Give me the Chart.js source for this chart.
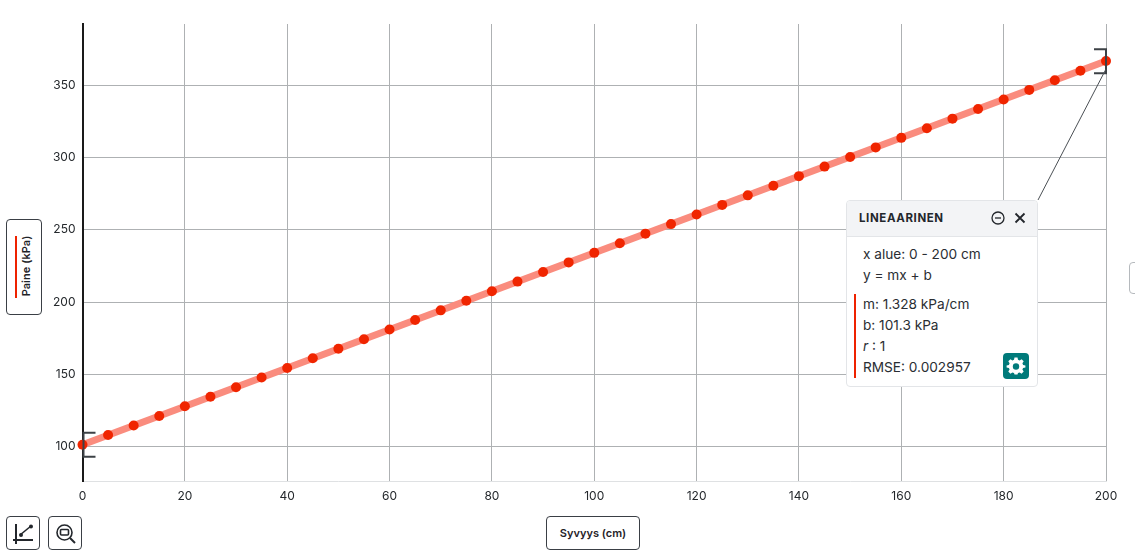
<!DOCTYPE html>
<html><head><meta charset="utf-8">
<script src="https://cdn.jsdelivr.net/npm/chart.js@4"></script>
<style>
html,body{margin:0;padding:0;background:#fff;width:1135px;height:558px;overflow:hidden;font-family:Inter,sans-serif;color:#1f2328}
#wrap{position:relative;width:1135px;height:558px}
canvas{position:absolute;left:0;top:0}
.btn{position:absolute;box-sizing:border-box;border:1px solid #3a3f45;border-radius:4px;background:#fff}
.label{font-weight:600;font-size:11px;color:#1f2328;display:flex;align-items:center;justify-content:center}
#ylab span{transform:rotate(-90deg);white-space:nowrap;position:absolute;left:-12px;top:39px;width:62px;text-align:center;letter-spacing:.05px}
#ybar{position:absolute;left:8px;top:16px;width:2px;height:62px;background:#ee2200}
#panel{position:absolute;left:846px;top:200px;width:192px;height:187px;box-sizing:border-box;border:1px solid #e3e5e8;border-radius:4px;background:#fff;font-size:13.65px;color:#2a2e33}
#head{position:absolute;left:0;top:0;right:0;height:35px;background:#f3f4f6;border-bottom:1px solid #e3e5e8;border-radius:4px 4px 0 0}
#head b{position:absolute;left:12px;top:10px;font-size:11.5px;font-weight:700;letter-spacing:.6px;color:#23272c}
.row{position:absolute;left:16px;white-space:nowrap;line-height:21px}
#bar{position:absolute;left:7px;top:93px;width:2px;height:84px;background:#ee2200}
#gear{position:absolute;left:156px;top:152px;width:26px;height:26px;border-radius:4px;background:#007a7a}
svg{position:absolute;overflow:visible}
</style></head><body><div id="wrap">
<canvas id="c" width="1135" height="558"></canvas>
<div id="ylab" class="btn label" style="left:6px;top:219px;width:36px;height:96px"><div id="ybar"></div><span>Paine (kPa)</span></div>
<div class="btn label" style="left:546px;top:516px;width:94px;height:34px">Syvyys (cm)</div>
<div class="btn" style="left:6px;top:516px;width:34px;height:34px">
<svg width="32" height="32" viewBox="0 0 32 32" fill="none" stroke="#23272c" stroke-width="2"><path d="M9 7V27M6 23H26"/><path d="M13 18L24 9" stroke-width="1.6"/><circle cx="14" cy="18" r="2" fill="#23272c" stroke="none"/><circle cx="24" cy="9.500" r="2" fill="#23272c" stroke="none"/></svg></div>
<div class="btn" style="left:48px;top:516px;width:34px;height:34px">
<svg width="32" height="32" viewBox="0 0 32 32" fill="none" stroke="#23272c" stroke-width="1.600"><circle cx="15.500" cy="15.500" r="7.500"/><rect x="11.500" y="12.500" width="8" height="5.500" rx="1"/><path d="M21 21L26 26" stroke-width="2"/></svg></div>
<div class="btn" style="left:1129px;top:262px;width:20px;height:32px;border-color:#b5b9bd"></div>
<div id="panel">
<div id="head"><b>LINEAARINEN</b>
<svg style="left:144px;top:10px" width="14" height="14" viewBox="0 0 14 14" fill="none" stroke="#23272c" stroke-width="1.300"><circle cx="7" cy="7" r="6"/><path d="M4 7H10"/></svg>
<svg style="left:167px;top:11px" width="12" height="12" viewBox="0 0 12 12" fill="none" stroke="#23272c" stroke-width="1.800"><path d="M1.500 1.500L10.500 10.500M10.500 1.500L1.500 10.500"/></svg>
</div>
<div class="row" style="top:43px">x alue: 0 - 200 cm</div>
<div class="row" style="top:64px">y = mx + b</div>
<div id="bar"></div>
<div class="row" style="top:93px">m: 1.328 kPa/cm</div>
<div class="row" style="top:114px">b: 101.3 kPa</div>
<div class="row" style="top:135px"><i>r</i> : 1</div>
<div class="row" style="top:156px">RMSE: 0.002957</div>
<div id="gear"><svg width="26" height="26" viewBox="0 0 26 26"><g fill="#fff"><path d="M11.500 5H14.500L15 7.300L16.600 8L18.600 6.700L20.700 8.800L19.400 10.800L20.100 12.400L22.400 12.900V15L20.100 15.500L19.400 17.100L20.700 19.100L18.600 21.200L16.600 19.900L15 20.600L14.500 22H11.500L11 20.600L9.400 19.900L7.400 21.200L5.300 19.100L6.600 17.100L5.900 15.500L3.600 15V12.900L5.900 12.400L6.600 10.800L5.300 8.800L7.400 6.700L9.400 8L11 7.300Z" transform="translate(0,-0.500)"/></g><circle cx="13" cy="13.500" r="3.200" fill="#007a7a"/></svg></div>
</div>
</div>
<script>
const depthCm = [0,5,10,15,20,25,30,35,40,45,50,55,60,65,70,75,80,85,90,95,100,105,110,115,120,125,130,135,140,145,150,155,160,165,170,175,180,185,190,195,200];
const pressureKPa = [101.3,108,114.6,121.2,127.9,134.5,141.1,147.8,154.4,161.1,167.7,174.3,181,187.6,194.3,200.9,207.5,214.2,220.8,227.5,234.1,240.7,247.4,254,260.6,267.3,273.9,280.6,287.2,293.8,300.5,307.1,313.7,320.4,327,333.7,340.3,346.9,353.6,360.2,366.9];
const fitX = [0,200];
const fitY = [101.3,366.9];
const xRange = [0,200];
const yRange = [76.2,392.5];
const measured = depthCm.map((x,i)=>({x,y:pressureKPa[i]}));
const fitLine = fitX.map((x,i)=>({x,y:fitY[i]}));

const overlay = {
  id:'overlay',
  afterDatasetsDraw(chart){
    const {ctx,scales:{x,y}} = chart;
    const bracket=(px,py,dir)=>{
      ctx.beginPath();
      ctx.moveTo(px+dir*12,py-12);ctx.lineTo(px,py-12);ctx.lineTo(px,py+12);ctx.lineTo(px+dir*12,py+12);
      ctx.stroke();
    };
    ctx.save();
    ctx.strokeStyle='#3c4146';ctx.lineWidth=2;
    bracket(x.getPixelForValue(fitX[0])+1,y.getPixelForValue(fitY[0]),1);
    bracket(x.getPixelForValue(fitX[1]),y.getPixelForValue(fitY[1]-0.200),-1);
    const ex=x.getPixelForValue(fitX[1]),ey=y.getPixelForValue(fitY[1]);
    ctx.strokeStyle='#4a4f54';ctx.lineWidth=1;
    ctx.beginPath();ctx.moveTo(ex,ey+8);ctx.lineTo(1038,200);ctx.stroke();
    ctx.restore();
  }
};

new Chart(document.getElementById('c'),{
  type:'scatter',
  data:{datasets:[
    {data:measured,showLine:false,pointRadius:5,pointHoverRadius:5,backgroundColor:'#f02500',borderColor:'#f02500',borderWidth:0,clip:false,order:1},
    {data:fitLine,showLine:true,pointRadius:0,borderColor:'rgba(250,140,126,1)',borderWidth:7,clip:false,order:2}
  ]},
  options:{
    responsive:false,animation:false,
    layout:{padding:{left:0,top:24,right:29,bottom:0}},
    plugins:{legend:{display:false},tooltip:{enabled:false}},
    scales:{
      x:{type:'linear',min:xRange[0],max:xRange[1],
        afterFit(s){s.height=77},
        grid:{color:'#aeb1b3',lineWidth:1,tickLength:0,drawTicks:false},
        border:{color:'#dfe1e3',width:1},
        ticks:{stepSize:20,padding:8,maxRotation:0,color:'#24282c',font:{family:'Inter',size:12}}},
      y:{type:'linear',min:yRange[0],max:yRange[1],
        afterFit(s){s.width=82.5},
        grid:{color:'#aeb1b3',lineWidth:1,drawTicks:false},
        border:{color:'#1a1a1a',width:2},
        afterBuildTicks(s){s.ticks=[100,150,200,250,300,350].map(v=>({value:v}))},
        ticks:{padding:7,color:'#24282c',font:{family:'Inter',size:12}}}
    }
  },
  plugins:[overlay]
});
</script></body></html>
